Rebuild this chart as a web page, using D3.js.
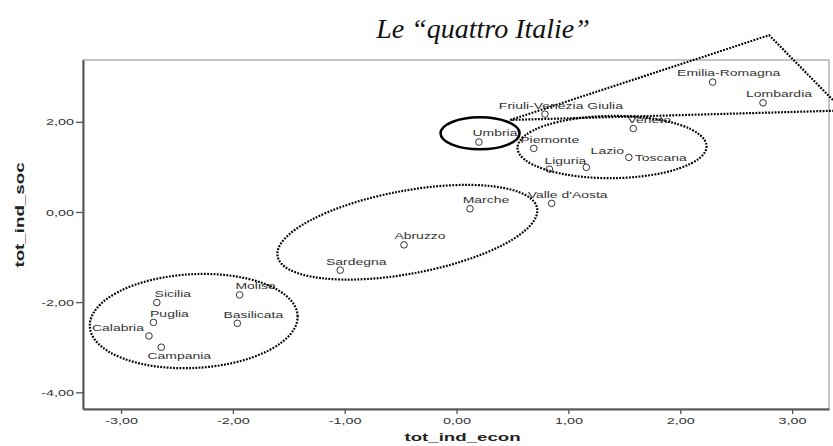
<!DOCTYPE html>
<html>
<head>
<meta charset="utf-8">
<script src="https://cdn.jsdelivr.net/npm/d3@7"></script>
<style>
  body { margin: 0; background: #fff; }
  svg { display: block; }
</style>
</head>
<body>
<div id="chart"></div>
<script>
// regioni e punteggi
var regions = ["Emilia-Romagna", "Lombardia", "Friuli-Venezia Giulia", "Veneto", "Umbria", "Piemonte",
               "Toscana", "Lazio", "Liguria", "Valle d'Aosta", "Marche", "Abruzzo", "Sardegna",
               "Molise", "Sicilia", "Basilicata", "Puglia", "Calabria", "Campania"];
var econ = [2.29, 2.74, 0.79, 1.58, 0.20, 0.69, 1.54, 1.16, 0.83, 0.85, 0.12, -0.47, -1.04,
            -1.94, -2.68, -1.96, -2.71, -2.75, -2.64];
var soc  = [2.88, 2.42, 2.17, 1.85, 1.55, 1.41, 1.21, 0.99, 0.95, 0.19, 0.07, -0.73, -1.29,
            -1.84, -2.01, -2.47, -2.45, -2.75, -3.00];
var xTicks = [-3, -2, -1, 0, 1, 2, 3];
var yTicks = [-4, -2, 0, 2];
var title = "Le \u201cquattro Italie\u201d";
var xTitle = "tot_ind_econ", yTitle = "tot_ind_soc";

// i quattro gruppi: centro, semiassi (unità asse x / asse y), rotazione
var groups = [
  {cx: -2.35, cy: -2.42, rx: 0.93, ry: 1.04, rot: -3, dotted: true},
  {cx: -0.44, cy: -0.45, rx: 1.18, ry: 0.92, rot: -10.5, dotted: true},
  {cx: 1.39, cy: 1.44, rx: 0.845, ry: 0.69, rot: -0.5, dotted: true},
  {cx: 0.21, cy: 1.745, rx: 0.353, ry: 0.355, rot: 0, dotted: false}
];
// triangolo che "apre" l'Umbria verso il nord
var wedge = [[0.48, 2.04], [2.795, 3.92], [3.457, 2.25]];

var width = 833, height = 446;
var svg = d3.select("#chart").append("svg")
    .attr("width", width)
    .attr("height", height);

var x = d3.scaleLinear().domain([-3.34, 3.33]).range([83, 829]);
var y = d3.scaleLinear().domain([-4.37, 3.37]).range([409, 60]);
var kx = x(1) - x(0), ky = y(0) - y(1);
var fmt = function(v){ return d3.format(".2f")(v).replace(".", ",").replace("\u2212", "-"); };
var sans = "'Liberation Sans', Arial, sans-serif";

// cornice
svg.append("rect")
    .attr("x", x.range()[0]).attr("y", y.range()[1])
    .attr("width", x.range()[1] - x.range()[0])
    .attr("height", y.range()[0] - y.range()[1])
    .style("fill", "none").style("stroke", "#8a8a8a").style("stroke-width", 1);

var xAxis = svg.append("g")
    .attr("transform", "translate(0," + y.range()[0] + ")")
    .call(d3.axisBottom(x).tickValues(xTicks).tickFormat(fmt).tickSize(5).tickSizeOuter(0));
var yAxis = svg.append("g")
    .attr("transform", "translate(" + x.range()[0] + ",0)")
    .call(d3.axisLeft(y).tickValues(yTicks).tickFormat(fmt).tickSize(7).tickSizeOuter(0));

[xAxis, yAxis].forEach(function(g){
  g.select(".domain").style("stroke", "#555").style("stroke-width", 2);
  g.selectAll(".tick line").style("stroke", "#555").style("stroke-width", 1.3);
  g.selectAll(".tick text")
    .style("font-family", sans).style("font-size", "9px").style("fill", "#333");
});
xAxis.selectAll(".tick text").attr("y", 9).attr("dy", "0.71em")
    .attr("transform", "scale(1.6,1)");
yAxis.selectAll(".tick text").attr("x", -9 / 1.6).attr("dy", "0.35em")
    .attr("transform", "scale(1.6,1)");

// titoli degli assi
svg.append("text")
    .attr("transform", "translate(" + (x(0) + 6) + ",441) scale(1.7,1)")
    .attr("text-anchor", "middle")
    .style("font-family", sans).style("font-weight", "bold").style("font-size", "11px")
    .style("fill", "#222")
    .text(xTitle);
svg.append("text")
    .attr("transform", "translate(24,215) rotate(-90) scale(1.5,1)")
    .attr("text-anchor", "middle")
    .style("font-family", sans).style("font-weight", "bold").style("font-size", "12.5px")
    .style("fill", "#222")
    .text(yTitle);

svg.append("text")
    .attr("x", 483).attr("y", 38)
    .attr("text-anchor", "middle")
    .style("font-family", "'Liberation Serif', Georgia, serif")
    .style("font-style", "italic").style("font-size", "28px").style("fill", "#111")
    .text(title);

// punti
var pts = regions.map(function(r, i){ return {name: r, e: econ[i], s: soc[i]}; });

svg.append("g").selectAll("circle")
    .data(pts).enter()
    .append("circle")
    .attr("cx", function(d){ return x(d.e); })
    .attr("cy", function(d){ return y(d.s); })
    .attr("r", 3.3)
    .style("fill", "none").style("stroke", "#333").style("stroke-width", 1);

// posizioni delle etichette: di norma sopra a destra del punto
var labelPos = {
  "Lazio":    {dx: 21, dy: -17, anchor: "middle"},
  "Toscana":  {dx: 6, dy: 0, anchor: "start"},
  "Calabria": {dx: -31, dy: -8, anchor: "middle"},
  "Campania": {dx: 18, dy: 8.5, anchor: "middle"}
};
svg.append("g").selectAll("text")
    .data(pts).enter()
    .append("text")
    .attr("transform", function(d){
      var p = labelPos[d.name] || {dx: 16, dy: -9};
      return "translate(" + (x(d.e) + p.dx) + "," + (y(d.s) + p.dy + 3.4) + ") scale(1.47,1)";
    })
    .attr("text-anchor", function(d){ return (labelPos[d.name] || {anchor: "middle"}).anchor; })
    .style("font-family", sans).style("font-size", "9.5px").style("fill", "#333")
    .text(function(d){ return d.name; });

// ellissi dei gruppi
svg.append("g").selectAll("ellipse")
    .data(groups).enter()
    .append("ellipse")
    .attr("transform", function(d){
      return "translate(" + x(d.cx) + "," + y(d.cy) + ") rotate(" + d.rot + ")";
    })
    .attr("rx", function(d){ return d.rx * kx; })
    .attr("ry", function(d){ return d.ry * ky; })
    .style("fill", "none").style("stroke", "#000")
    .style("stroke-width", function(d){ return d.dotted ? 2.2 : 2.6; })
    .style("stroke-dasharray", function(d){ return d.dotted ? "1.8,1.4" : null; });

svg.append("path")
    .datum(wedge)
    .attr("d", d3.line().x(function(d){ return x(d[0]); }).y(function(d){ return y(d[1]); }).curve(d3.curveLinearClosed))
    .style("fill", "none").style("stroke", "#000")
    .style("stroke-width", 2.2).style("stroke-dasharray", "1.8,1.4");
</script>
</body>
</html>
